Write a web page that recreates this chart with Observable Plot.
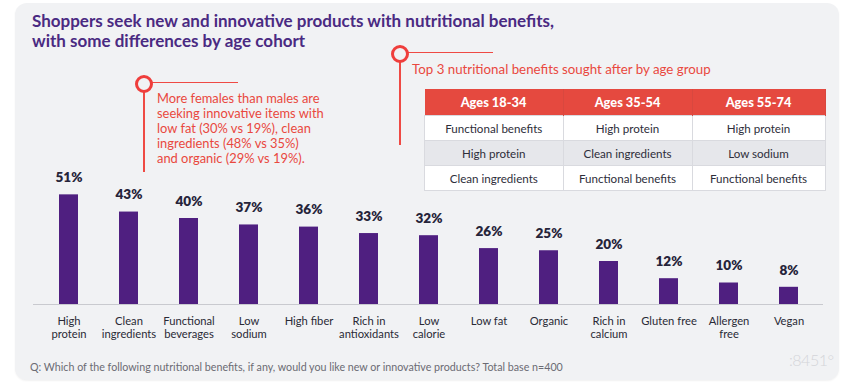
<!DOCTYPE html>
<html>
<head>
<meta charset="utf-8">
<script src="https://cdn.jsdelivr.net/npm/d3@7"></script>
<script src="https://cdn.jsdelivr.net/npm/@observablehq/plot@0.6"></script>
<style>
  html, body { margin: 0; padding: 0; background: #ffffff; }
  body { width: 851px; height: 389px; position: relative; overflow: hidden; font-family: Lato, "Open Sans", sans-serif; }
  #card { position: absolute; left: 15px; top: 3px; width: 824px; height: 377px; background: #f1f2f4; border-radius: 12px; box-shadow: 0 1px 2px rgba(0,0,0,0.06); }
  #chart { position: absolute; left: 0; top: 0; }
  #title { position: absolute; left: 32px; top: 11px; font-size: 17px; font-weight: 700; color: #4a2a82; line-height: 20px; letter-spacing: 0; }
  .ann { position: absolute; color: #e9483e; line-height: 15px; }
  .ring { position: absolute; width: 12px; height: 12px; border: 3.5px solid #ef3e3c; border-radius: 50%; background: #f1f2f4; }
  .hline { position: absolute; height: 1.2px; background: #ef4a44; }
  .vline { position: absolute; width: 1.5px; background: #ef4a44; }
  #tbl { position: absolute; left: 424px; top: 89px; border-collapse: collapse; font-size: 11.6px; color: #2e2e3a; }
  #tbl th { background: #e5493f; color: #fff; font-weight: 900; font-size: 12.8px; height: 26px; padding: 0; border-right: 1px solid #d8483f; }
  #tbl td { height: 24px; padding: 0; text-align: center; border: 1px solid #d9dadf; background: #fff; }
  #tbl tr.alt td { background: #e6e7eb; }
  #foot { position: absolute; left: 30px; top: 360px; font-size: 10.7px; color: #6b6b73; }
  #logo { position: absolute; left: 789px; top: 350px; font-size: 16px; color: #d4d5d9; font-weight: 300; letter-spacing: -0.5px; }
</style>
</head>
<body>
<div id="card"></div>
<div id="chart"></div>
<div id="title">Shoppers seek new and innovative products with nutritional benefits,<br>with some differences by age cohort</div>

<div class="vline" style="left:143px; top:88px; height:84px;"></div>
<div class="hline" style="left:148px; top:82px; width:90px;"></div>
<div class="ring" style="left:135px; top:75px;"></div>
<div class="ann" id="note1" style="left:157px; top:91px; font-size:12.9px;"></div>

<div class="vline" style="left:399px; top:58px; height:87px;"></div>
<div class="hline" style="left:404px; top:52px; width:89px;"></div>
<div class="ring" style="left:391px; top:45px;"></div>
<div class="ann" id="note2" style="left:412px; top:62px; font-size:13.3px;"></div>

<table id="tbl"></table>
<div id="foot"></div>
<div id="logo">:8451°</div>

<script>
// ---- data ----
const categories = ["High\nprotein", "Clean\ningredients", "Functional\nbeverages", "Low\nsodium", "High fiber", "Rich in\nantioxidants", "Low\ncalorie", "Low fat", "Organic", "Rich in\ncalcium", "Gluten free", "Allergen\nfree", "Vegan"];
const values = [51, 43, 40, 37, 36, 33, 32, 26, 25, 20, 12, 10, 8];

const ageGroups = ["Ages 18-34", "Ages 35-54", "Ages 55-74"];
const rank1 = ["Functional benefits", "High protein", "High protein"];
const rank2 = ["High protein", "Clean ingredients", "Low sodium"];
const rank3 = ["Clean ingredients", "Functional benefits", "Functional benefits"];

const noteText = ["More females than males are", "seeking innovative items with", "low fat (30% vs 19%), clean", "ingredients (48% vs 35%)", "and organic (29% vs 19%)."];
const tableTitle = "Top 3 nutritional benefits sought after by age group";
const footnote = "Q: Which of the following nutritional benefits, if any, would you like new or innovative products? Total base n=400";

const data = categories.map((c, i) => ({category: c, value: values[i]}));

// ---- chart ----
const chart = Plot.plot({
  width: 851,
  height: 389,
  marginLeft: 33,
  marginRight: 28,
  marginTop: 175,
  marginBottom: 85,
  style: {background: "transparent", fontFamily: "Lato, 'Open Sans', sans-serif", overflow: "visible"},
  x: {domain: categories, paddingInner: 0.69, paddingOuter: 0.345, label: null},
  y: {domain: [0, 60], axis: null},
  marks: [
    Plot.barY(data, {x: "category", y: "value", fill: "#4f1f80"}),
    Plot.ruleY([0], {stroke: "#c9cacf", strokeWidth: 1.2}),
    Plot.text(data, {x: "category", y: "value", text: d => d.value + "%", dy: -17, fontSize: 13.5, fontWeight: 800, fill: "#26243a"}),
    Plot.axisX({tickSize: 0, tickPadding: 12, fontSize: 11.2, fill: "#2a2a36", lineHeight: 1.1, label: null})
  ]
});
document.getElementById("chart").appendChild(chart);

// ---- annotations and table ----
document.getElementById("note1").innerHTML = noteText.join("<br>");
document.getElementById("note2").textContent = tableTitle;
document.getElementById("foot").textContent = footnote;

const tbl = document.getElementById("tbl");
const colW = [138, 128, 132];
let html = "<tr>" + ageGroups.map((g, i) => `<th style="width:${colW[i]}px">${g}</th>`).join("") + "</tr>";
[rank1, rank2, rank3].forEach((row, r) => {
  html += `<tr class="${r === 1 ? "alt" : ""}">` + row.map(t => `<td>${t}</td>`).join("") + "</tr>";
});
tbl.innerHTML = html;
</script>
</body>
</html>
